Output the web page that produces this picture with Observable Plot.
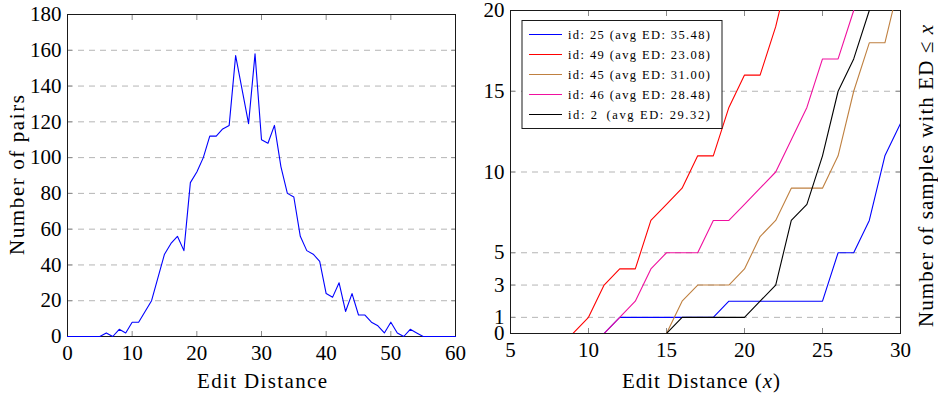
<!DOCTYPE html>
<html><head><meta charset="utf-8">
<script src="https://cdn.jsdelivr.net/npm/d3@7"></script>
<script src="https://cdn.jsdelivr.net/npm/@observablehq/plot@0.6"></script>
<style>
html,body{margin:0;padding:0;background:#fff;}
#wrap{display:flex;width:938px;height:398px;overflow:hidden;}
svg{display:block;}
</style></head><body><div id="wrap"></div>
<script>
// ---------- Left chart data ----------
const editDistance = [0,1,2,3,4,5,6,7,8,9,10,11,12,13,14,15,16,17,18,19,20,21,22,23,24,25,26,27,28,29,30,31,32,33,34,35,36,37,38,39,40,41,42,43,44,45,46,47,48,49,50,51,52,53,54,55,56,57,58,59,60];
const pairCounts   = [0,0,0,0,0,0,2,0,4,2,8,8,14,20,33,46,52,56,48,86,92,100,112,112,116,118,157,138,119,158,110,108,118,95,80,78,56,48,46,42,24,22,30,14,24,12,12,8,6,2,8,2,0,4,2,0,0,0,0,0,0];
const leftXTicks = [0,10,20,30,40,50,60];
const leftYTicks = [0,20,40,60,80,100,120,140,160,180];
const leftGridTicks = [20,40,60,80,100,120,140,160];

// ---------- Right chart data ----------
const cumX   = [5,6,7,8,9,10,11,12,13,14,15,16,17,18,19,20,21,22,23,24,25,26,27,28,29,30];
const cum25  = [0,0,0,0,0,0,0,1,1,1,1,1,1,1,2,2,2,2,2,2,2,5,5,7,11,13];
const cum49  = [0,0,0,0,0,1,3,4,4,7,8,9,11,11,14,16,16,19,23,null,null,null,null,null,null,null];
const cum45  = [0,0,0,0,0,0,0,0,0,0,0,2,3,3,3,4,6,7,9,9,9,11,15,18,18,22];
const cum46  = [0,0,0,0,0,0,0,1,2,4,5,5,5,7,7,8,9,10,12,14,17,17,20,null,null,null];
const cum2   = [0,0,0,0,0,0,0,0,0,0,0,1,1,1,1,1,2,3,7,8,11,15,17,20,null,null];
const seriesIds    = ["25","49","45","46","2"];
const seriesAvgED  = ["35.48","23.08","31.00","28.48","29.32"];
const seriesValues = [cum25, cum49, cum45, cum46, cum2];
const seriesColors = ["#0000ff","#ff0000","#bf8040","#f0109f","#000000"];
const rightXTicks = [5,10,15,20,25,30];
const rightYTicks = [0,1,3,5,10,15,20];
const rightGridTicks = [1,3,5,10,15];

const FONT = "'Liberation Serif','Times New Roman',serif";

function inwardTicks(xt, yt) {
  const o = {tickFormat: () => "", label: null, tickSize: 5, stroke: "#8a8a8a", strokeWidth: 1};
  return [
    Plot.axisX(xt, {...o, anchor: "bottom", dy: -5}),
    Plot.axisX(xt, {...o, anchor: "top", dy: 5}),
    Plot.axisY(yt, {...o, anchor: "left", dx: 5}),
    Plot.axisY(yt, {...o, anchor: "right", dx: -5})
  ];
}

// ---------- Left plot ----------
const pairRows = editDistance.map((d, i) => ({d, n: pairCounts[i]}));
const left = Plot.plot({
  width: 470, height: 398,
  marginLeft: 67, marginRight: 15, marginTop: 14, marginBottom: 62,
  style: {fontFamily: FONT, fontSize: "21px", background: "transparent", overflow: "visible"},
  x: {domain: [0, 60]},
  y: {domain: [0, 180]},
  marks: [
    Plot.gridY(leftGridTicks, {stroke: "#b5b5b5", strokeOpacity: 1, strokeDasharray: "6,5", strokeWidth: 1}),
    ...inwardTicks(leftXTicks, leftYTicks),
    Plot.frame({stroke: "#1a1a1a", strokeWidth: 1}),
    Plot.line(pairRows, {x: "d", y: "n", stroke: "#0000ff", strokeWidth: 1.1}),
    Plot.axisX(leftXTicks, {tickSize: 0, tickPadding: 9, label: null}),
    Plot.axisY(leftYTicks, {tickSize: 0, tickPadding: 6, label: null})
  ]
});

// ---------- Right plot ----------
const rightMarks = [
  Plot.gridY(rightGridTicks, {stroke: "#b5b5b5", strokeOpacity: 1, strokeDasharray: "6,5", strokeWidth: 1}),
  ...inwardTicks(rightXTicks, rightYTicks),
  Plot.frame({stroke: "#1a1a1a", strokeWidth: 1})
];
seriesValues.forEach((vals, k) => {
  const rows = cumX.map((x, i) => ({x, c: vals[i]}));
  rightMarks.push(Plot.line(rows, {x: "x", y: "c", stroke: seriesColors[k], strokeWidth: 1.1, clip: true}));
});
rightMarks.push(
  Plot.axisX(rightXTicks, {tickSize: 0, tickPadding: 9, label: null}),
  Plot.axisY(rightYTicks, {tickSize: 0, tickPadding: 6, label: null})
);
const right = Plot.plot({
  width: 468, height: 398,
  marginLeft: 40, marginRight: 38, marginTop: 10, marginBottom: 65,
  style: {fontFamily: FONT, fontSize: "21px", background: "transparent", overflow: "visible"},
  x: {domain: [5, 30]},
  y: {domain: [0, 20]},
  marks: rightMarks
});

const wrap = document.getElementById("wrap");
wrap.appendChild(left);
wrap.appendChild(right);

// ---------- Axis titles ----------
const L = d3.select(left);
L.append("text").attr("x", 262).attr("y", 388).attr("text-anchor", "middle")
  .attr("textLength", 130).attr("lengthAdjust", "spacing")
  .style("font-family", FONT).style("font-size", "21px").text("Edit Distance");
L.append("text").attr("transform", "translate(24,175) rotate(-90)").attr("text-anchor", "middle")
  .attr("textLength", 160).attr("lengthAdjust", "spacing")
  .style("font-family", FONT).style("font-size", "21px").text("Number of pairs");

const R = d3.select(right);
const xl = R.append("text").attr("x", 231).attr("y", 388).attr("text-anchor", "middle")
  .attr("textLength", 158).attr("lengthAdjust", "spacing")
  .style("font-family", FONT).style("font-size", "21px");
xl.append("tspan").text("Edit Distance (");
xl.append("tspan").style("font-style", "italic").text("x");
xl.append("tspan").text(")");
const yl = R.append("text").attr("transform", "translate(463,176) rotate(-90)").attr("text-anchor", "middle")
  .attr("textLength", 302).attr("lengthAdjust", "spacing")
  .style("font-family", FONT).style("font-size", "21px");
yl.append("tspan").text("Number of samples with ED \u2264 ");
yl.append("tspan").style("font-style", "italic").text("x");

// ---------- Legend ----------
const lg = R.append("g").attr("transform", "translate(52,20.5)");
lg.append("rect").attr("width", 200).attr("height", 108).attr("fill", "white").attr("stroke", "#1a1a1a").attr("stroke-width", 1);
seriesIds.forEach((id, k) => {
  const y = 14 + k * 20;
  lg.append("line").attr("x1", 7).attr("x2", 40).attr("y1", y).attr("y2", y)
    .attr("stroke", seriesColors[k]).attr("stroke-width", 1);
  const label = id.length === 1 ? `id: ${id}\u2002(avg ED: ${seriesAvgED[k]})` : `id: ${id} (avg ED: ${seriesAvgED[k]})`;
  lg.append("text").attr("x", 46).attr("y", y + 4.5).attr("text-anchor", "start")
    .attr("textLength", 142).attr("lengthAdjust", "spacing")
    .style("font-family", FONT).style("font-size", "12.5px").text(label);
});
</script>
</body></html>
